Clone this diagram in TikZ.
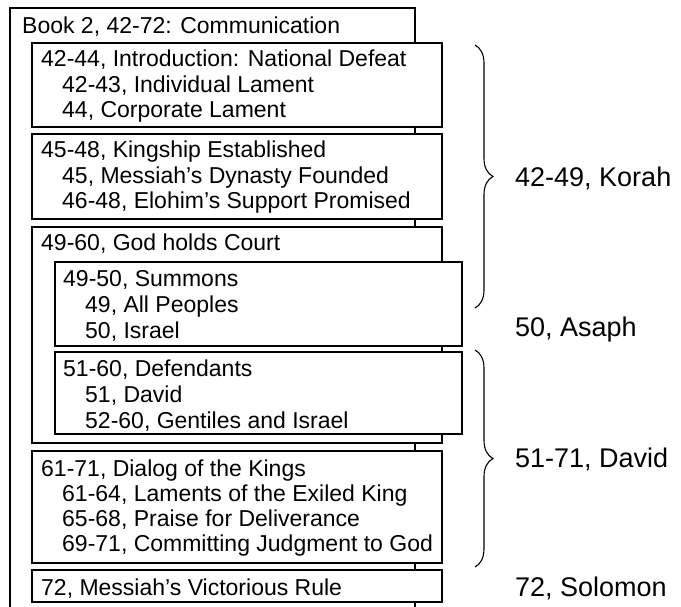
\documentclass[tikz,border=0pt]{standalone}
\usepackage{fontspec}
\setmainfont{Liberation Sans}
\usetikzlibrary{decorations.pathreplacing}
\begin{document}
\begin{tikzpicture}[x=1pt,y=-1pt,
  frame/.style={draw=black,line width=1.2pt,fill=white,anchor=north west,inner sep=0pt,outer sep=0pt},
  txt/.style={anchor=base west,inner sep=0pt,font=\fontsize{23}{25}\selectfont},
  lbl/.style={anchor=base west,inner sep=0pt,font=\fontsize{27}{30}\selectfont},
  bracestyle/.style={draw,line width=1.1pt,decorate,decoration={brace,amplitude=18pt}}]
\useasboundingbox (0,0) rectangle (681,607);
% outer frame (cut off at the bottom)
\draw[line width=1.2pt] (10,607) -- (10,8) -- (415,8) -- (415,607);
\node[txt] (book) at (22,34) {Book 2, 42-72: Communication};
% boxes
\node[frame,minimum width=410,minimum height=84] (b1) at (32,43) {};
\node[frame,minimum width=410,minimum height=85] (b2) at (32,134) {};
\node[frame,minimum width=410,minimum height=216] (b3) at (32,227) {};
\node[frame,minimum width=407,minimum height=84] (s1) at (55,262) {};
\node[frame,minimum width=407,minimum height=82] (s2) at (55,352) {};
\node[frame,minimum width=410,minimum height=112] (b4) at (32,451) {};
\node[frame,minimum width=410,minimum height=32] (b5) at (32,570) {};
% texts
\node[txt] (t11) at (41,67) {42-44, Introduction: National Defeat};
\node[txt] (t12) at (62,92.5) {42-43, Individual Lament};
\node[txt] (t13) at (62,117.5) {44, Corporate Lament};
\node[txt] (t21) at (41,158) {45-48, Kingship Established};
\node[txt] (t22) at (62,184) {45, Messiah’s Dynasty Founded};
\node[txt] (t23) at (62,209) {46-48, Elohim’s Support Promised};
\node[txt] (t31) at (41,251) {49-60, God holds Court};
\node[txt] (s11) at (63,286.5) {49-50, Summons};
\node[txt] (s12) at (85,312.5) {49, All Peoples};
\node[txt] (s13) at (85,338.5) {50, Israel};
\node[txt] (s21) at (63,376.5) {51-60, Defendants};
\node[txt] (s22) at (85,402.5) {51, David};
\node[txt] (s23) at (85,428) {52-60, Gentiles and Israel};
\node[txt] (t41) at (41,476.5) {61-71, Dialog of the Kings};
\node[txt] (t42) at (62,501.5) {61-64, Laments of the Exiled King};
\node[txt] (t43) at (62,526.5) {65-68, Praise for Deliverance};
\node[txt] (t44) at (62,551.5) {69-71, Committing Judgment to God};
\node[txt] (t51) at (41,595) {72, Messiah’s Victorious Rule};
% braces
\coordinate (k1) at (475,45);
\coordinate (k2) at (475,308);
\coordinate (d1) at (475,350);
\coordinate (d2) at (475,567);
\draw[bracestyle] (k1) -- (k2);
\draw[bracestyle] (d1) -- (d2);
\node[lbl] (korah) at (515,187) {42-49, Korah};
\node[lbl] (asaph) at (515,337) {50, Asaph};
\node[lbl] (david) at (515,467) {51-71, David};
\node[lbl] (solomon) at (515,596) {72, Solomon};
\end{tikzpicture}
\end{document}
